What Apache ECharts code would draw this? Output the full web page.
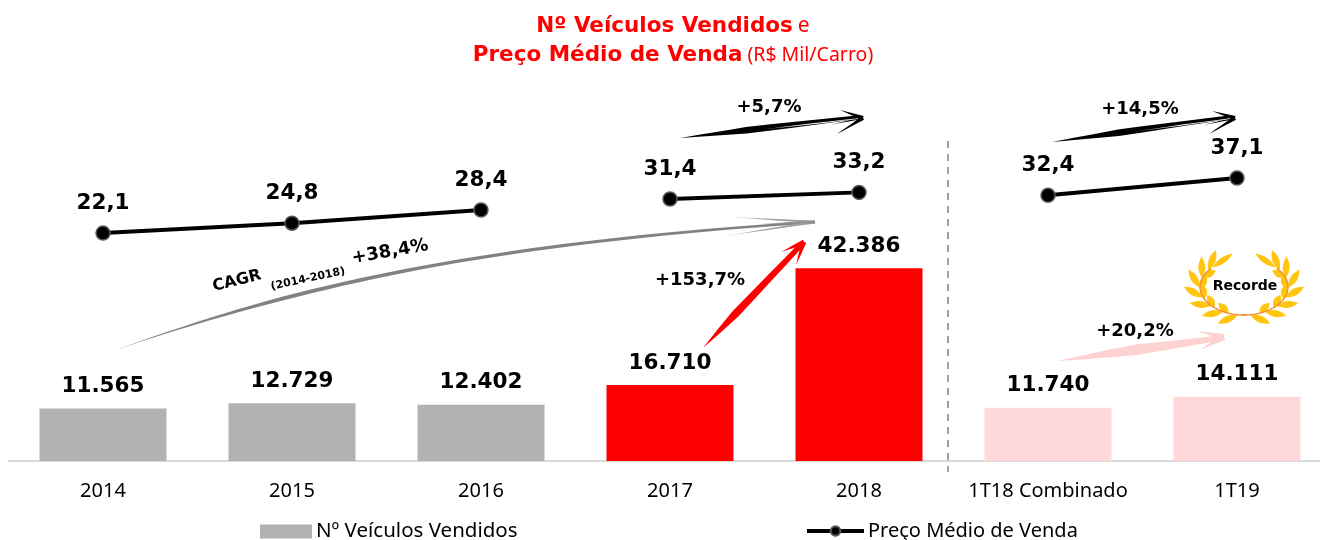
<!DOCTYPE html>
<html><head><meta charset="utf-8">
<style>html,body{margin:0;padding:0;background:#fff;overflow:hidden}#w{width:1320px;height:540px;overflow:hidden}#c{width:1332px;height:540px}</style>
<script src="https://cdn.jsdelivr.net/npm/echarts@6/dist/echarts.min.js"></script></head>
<body><div id="w"><div id="c"></div></div>
<script>
const categories=['2014','2015','2016','2017','2018','1T18 Combinado','1T19'];
const vehiclesSold=[11565,12729,12402,16710,42386,11740,14111];
const avgPrice=[22.1,24.8,28.4,null,null,null,null];
const avgPrice2=[null,null,null,31.4,33.2,null,null];
const avgPrice3=[null,null,null,null,null,32.4,37.1];
const barColors=['#b2b2b2','#b2b2b2','#b2b2b2','#ff0000','#ff0000','#ffd9d9','#ffd9d9'];
const GRAY='#b2b2b2';
const BOLD='"DejaVu Sans"', REG='"Noto Sans"';
const fmtInt=v=>String(v).replace(/\B(?=(\d{3})+$)/g,'.');
const fmtDec=v=>v.toFixed(1).replace('.',',');

function taper(c,w,tailFrac,endW){
  const up=[],dn=[];const n=c.length;
  for(let i=0;i<n;i++){
    const a=c[Math.max(i-1,0)],b=c[Math.min(i+1,n-1)];
    const dx=b[0]-a[0],dy=b[1]-a[1],l=Math.hypot(dx,dy);
    const t=i/(n-1),f=tailFrac||0.5;
    let h=(w/2)*Math.min(1,t/f);
    if(endW!==undefined&&t>f) h=(w/2)+((endW-w)/2)*(t-f)/(1-f);
    up.push([c[i][0]+dy/l*h,c[i][1]-dx/l*h]);
    dn.push([c[i][0]-dy/l*h,c[i][1]+dx/l*h]);
  }
  return up.concat(dn.reverse());
}
function seg(a,b,n){const r=[];for(let i=0;i<=n;i++){const t=i/n;r.push([a[0]+(b[0]-a[0])*t,a[1]+(b[1]-a[1])*t]);}return r;}
function bez(p0,p1,p2,p3,n){const r=[];for(let i=0;i<=n;i++){const t=i/n,u=1-t;
  r.push([u*u*u*p0[0]+3*u*u*t*p1[0]+3*u*t*t*p2[0]+t*t*t*p3[0],u*u*u*p0[1]+3*u*u*t*p1[1]+3*u*t*t*p2[1]+t*t*t*p3[1]]);}return r;}
function poly(points,color,z){return {type:'polygon',shape:{points},style:{fill:color},z:z||5,silent:true};}
function barb(back,tip,w,color,z){
  return poly(taper(seg(back,tip,4),w,1),color,z);
}
function label(text,x,y,size,rot){
  return {type:'text',x,y,rotation:(rot||0)*Math.PI/180,silent:true,z:8,
    style:{text,fill:'#000',font:'bold '+size+'px '+BOLD,align:'center',verticalAlign:'middle'}};
}
const g=[];
g.push({type:'line',shape:{x1:948,y1:141,x2:948,y2:472},style:{stroke:'#808080',lineWidth:1.5,lineDash:[7,6]},z:1,silent:true});
function blackArrow(ax,ay,bx,by,tx,ty,ux,uy){
  const dy=(by-ay),dx=(bx-ax);
  g.push(poly(taper(seg([ax,ay],[bx-6,by-dy/dx*-6],8),7,0.4,3.5),'#000'));
  g.push(poly(taper(seg([ax+dx*.45,ay+dy*.45+0.4],[bx-5,by+0.6],6),1,0.5,0.6),'#fff',6));
  g.push(barb([tx,ty],[bx,by],4,'#000'));
  g.push(barb([ux,uy],[bx,by],4,'#000'));
  g.push(barb([bx-dx*.17,by-dy*.17-3],[bx,by],2,'#000'));
  g.push(barb([bx-dx*.17,by-dy*.17+3],[bx,by],2,'#000'));
}
blackArrow(680,138,863,118,840,110,837,134);
blackArrow(1052,142,1235,118,1212,111,1209,134);
const cagrPath=bez([113,351],[300,285],[480,245],[800,223],40);
g.push(poly(taper(cagrPath,4,0.3,2.5),'#828282'));
g.push(barb([730,217],[815,222],3,'#a0a0a0'));
g.push(barb([725,236],[815,222],3,'#a0a0a0'));
g.push(barb([760,224],[815,222],3,'#909090'));
g.push(poly(taper(seg([703,348],[801,245],6),8,0.3,5),'#ff0000',7));
g.push(barb([781,252],[804,242],5,'#ff0000',7));
g.push(barb([796,265],[804,242],5,'#ff0000',7));
g.push(poly(taper(seg([1057,361],[1220,338],6),11,0.45,5),'#ffd2d2'));
g.push(barb([1197,331],[1224,337],6,'#ffd2d2'));
g.push(barb([1200,350],[1224,337],6,'#ffd2d2'));
g.push(label('+5,7%',769,107,18));
g.push(label('+14,5%',1140,109,18));
g.push(label('+153,7%',700,280,18));
g.push(label('+20,2%',1135,331,18));
g.push(label('CAGR',237,281,16,14));
g.push(label('(2014-2018)',308,279,11,12));
g.push(label('+38,4%',390,252,18,10));
// laurel wreath
const wc=[1244,287],rx=44,ry=28;
function lens(p,dir,len,wid){
  const pts=[],n=8,ca=Math.cos(dir),sa=Math.sin(dir);
  for(let i=0;i<=n;i++){const t=i/n,o=Math.sin(Math.PI*t)*wid/2;pts.push([p[0]+ca*len*t-sa*o,p[1]+sa*len*t+ca*o]);}
  for(let i=n-1;i>0;i--){const t=i/n,o=-Math.sin(Math.PI*t)*wid/2;pts.push([p[0]+ca*len*t-sa*o,p[1]+sa*len*t+ca*o]);}
  return poly(pts,'#ffc510',4);
}
[-1,1].forEach(side=>{
  const P=d=>{const a=d*Math.PI/180;return [wc[0]+side*rx*Math.sin(a),wc[1]+ry*Math.cos(a)];};
  const T=d=>{const a=d*Math.PI/180;return Math.atan2(-ry*Math.sin(a),side*rx*Math.cos(a));};
  const pts=[];for(let d=-4;d<=134;d+=4)pts.push(P(d));
  g.push({type:'polyline',shape:{points:pts},style:{stroke:'#f58a32',lineWidth:1.3},z:5,silent:true});
  [8,28,48,68,88,108,126].forEach(d=>g.push(lens(P(d),T(d)+side*0.5,22,7)));
  [20,42,64,86,110].forEach(d=>g.push(lens(P(d),T(d)-side*0.55,15,7)));
  g.push(lens(P(134),T(134)+side*0.02,25,6));
});
g.push(label('Recorde',1245,286,14));

const option={
  animation:false,backgroundColor:'#fff',
  title:{left:668,top:7,textAlign:'center',text:'{b|Nº Veículos Vendidos} {r|e}\n{b|Preço Médio de Venda} {s|(R$ Mil/Carro)}',
    textStyle:{fontWeight:'normal',rich:{
      b:{fontFamily:BOLD,fontWeight:'bold',fontSize:21.5,color:'#ff0000',lineHeight:29},
      r:{fontFamily:REG,fontWeight:'normal',fontSize:21,color:'#ff0000',lineHeight:29},
      s:{fontFamily:REG,fontWeight:'normal',fontSize:19.5,color:'#ff0000',lineHeight:29}}}},
  legend:[
    {data:[{name:'Nº Veículos Vendidos',icon:'rect'}],left:260,top:521,itemWidth:52,itemHeight:14,itemGap:4,
     textStyle:{fontFamily:REG,fontSize:20.5,color:'#000',padding:[0,0,0,-1]},padding:0},
    {data:['Preço Médio de Venda'],left:805,top:521,itemWidth:57,itemHeight:12,itemGap:3,
     lineStyle:{width:4,color:'#000'},
     textStyle:{fontFamily:REG,fontSize:20,color:'#000',padding:[0,0,0,-1]},padding:0}
  ],
  grid:{left:8.5,width:1323,top:61,height:400,containLabel:false},
  xAxis:{type:'category',data:categories,axisTick:{show:false},
    axisLine:{lineStyle:{color:'#d9d9d9',width:2}},
    axisLabel:{fontFamily:REG,fontSize:20,color:'#000',margin:20,interval:0}},
  yAxis:[{type:'value',min:0,max:88000,show:false},{type:'value',min:-40,max:69,show:false}],
  series:[
    {name:'Nº Veículos Vendidos',type:'bar',barWidth:127,itemStyle:{color:GRAY},
     data:vehiclesSold.map((v,i)=>({value:v,itemStyle:{color:barColors[i]}})),
     label:{show:true,position:'top',distance:11,formatter:p=>fmtInt(p.value),fontFamily:BOLD,fontWeight:'bold',fontSize:21.5,color:'#000'}},
    ...[avgPrice,avgPrice2,avgPrice3].map(d=>({name:'Preço Médio de Venda',type:'line',yAxisIndex:1,data:d,connectNulls:false,
      symbol:'circle',symbolSize:14,lineStyle:{color:'#000',width:4},
      itemStyle:{color:'#000',borderColor:'#595959',borderWidth:1.5},z:3,
      label:{show:true,position:'top',distance:11,formatter:p=>fmtDec(p.value),fontFamily:BOLD,fontWeight:'bold',fontSize:21.5,color:'#000'}}))
  ],
  graphic:{elements:g}
};
echarts.init(document.getElementById('c'),null,{renderer:'canvas'}).setOption(option);
</script></body></html>
